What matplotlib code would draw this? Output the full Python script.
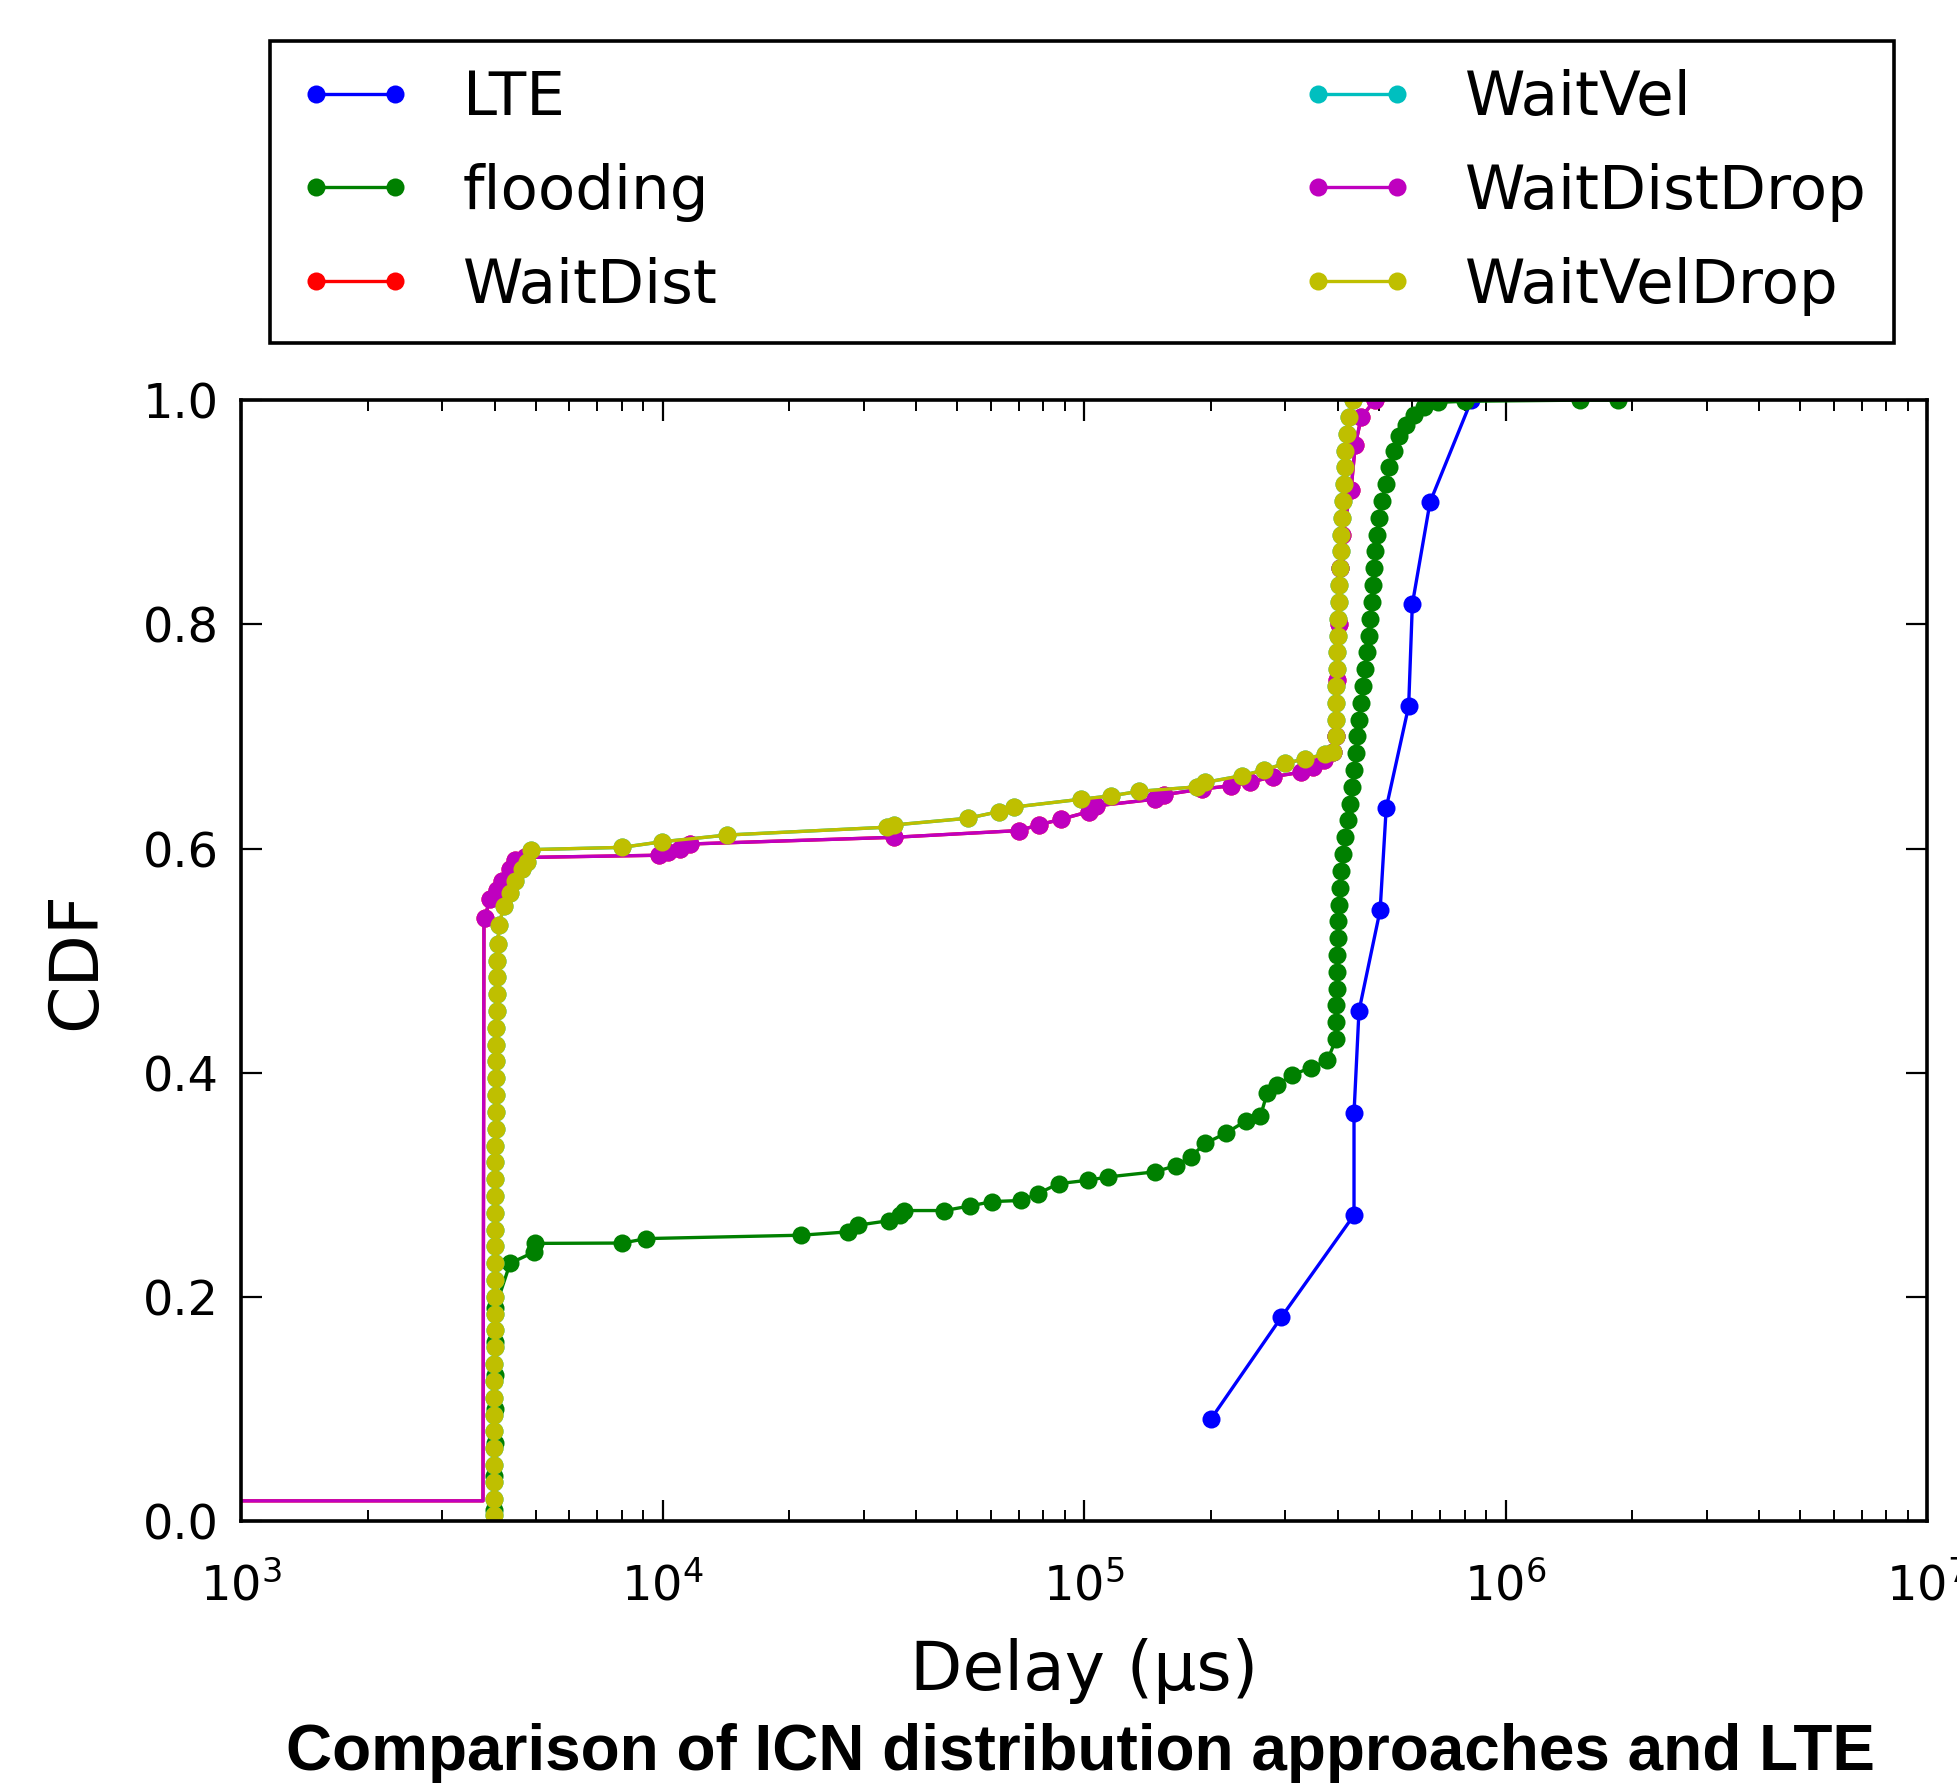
import matplotlib
matplotlib.use("Agg")
import matplotlib.pyplot as plt

# series names and old-style single letter colours
labels = ["LTE", "flooding", "WaitDist", "WaitVel", "WaitDistDrop", "WaitVelDrop"]
colors = ["#0000ff", "#008000", "#ff0000", "#00bfbf", "#bf00bf", "#bfbf00"]

# delays (microseconds) and CDF values
lte_delay = [2.0e5, 2.94e5, 4.37e5, 4.37e5, 4.49e5, 5.04e5, 5.21e5, 5.89e5, 6.01e5, 6.62e5, 8.3e5]
lte_cdf = [0.091, 0.182, 0.273, 0.364, 0.455, 0.545, 0.636, 0.727, 0.818, 0.909, 1.0]

flood_delay = [3.99e3, 3.99e3, 4.0e3, 4.0e3, 4.0e3, 4.01e3, 4.01e3, 4.35e3, 4.96e3, 4.98e3,
               8.03e3, 9.16e3, 2.13e4, 2.76e4, 2.91e4, 3.45e4, 3.66e4, 3.74e4, 4.66e4, 5.35e4,
               6.05e4, 7.1e4, 7.76e4, 8.7e4, 1.02e5, 1.14e5, 1.47e5, 1.65e5, 1.79e5, 1.94e5,
               2.17e5, 2.42e5, 2.62e5, 2.72e5, 2.87e5, 3.12e5, 3.45e5, 3.78e5,
               3.96e5, 3.97e5, 3.97e5, 3.98e5, 3.98e5, 3.99e5, 4.0e5, 4.01e5, 4.03e5, 4.05e5,
               4.08e5, 4.12e5, 4.17e5, 4.22e5, 4.27e5, 4.32e5, 4.37e5, 4.41e5, 4.45e5, 4.49e5,
               4.53e5, 4.58e5, 4.63e5, 4.68e5, 4.73e5, 4.77e5, 4.81e5, 4.84e5, 4.87e5, 4.91e5,
               4.95e5, 5.0e5, 5.08e5, 5.2e5, 5.3e5, 5.43e5, 5.6e5, 5.8e5, 6.06e5, 6.4e5,
               6.9e5, 8.0e5, 1.5e6, 1.85e6]
flood_cdf = [0.01, 0.04, 0.07, 0.10, 0.13, 0.16, 0.19, 0.23, 0.240, 0.2477,
             0.248, 0.252, 0.255, 0.258, 0.264, 0.268, 0.273, 0.277, 0.277, 0.281,
             0.285, 0.286, 0.292, 0.301, 0.304, 0.307, 0.3115, 0.317, 0.325, 0.337,
             0.346, 0.357, 0.361, 0.382, 0.389, 0.398, 0.4045, 0.411,
             0.43, 0.445, 0.46, 0.475, 0.49, 0.505, 0.52, 0.535, 0.55, 0.565,
             0.58, 0.595, 0.61, 0.625, 0.64, 0.655, 0.67, 0.685, 0.70, 0.715,
             0.73, 0.745, 0.76, 0.775, 0.79, 0.805, 0.82, 0.835, 0.85, 0.865,
             0.88, 0.895, 0.91, 0.925, 0.94, 0.955, 0.968, 0.978, 0.987, 0.994,
             0.998, 0.999, 1.0, 1.0]

wdd_delay = [5.0e2, 3.75e3, 3.77e3, 3.79e3, 3.89e3, 4.05e3, 4.16e3, 4.34e3, 4.46e3, 4.71e3,
             9.8e3, 1.03e4, 1.1e4, 1.16e4, 3.54e4, 7.0e4, 7.8e4, 8.8e4, 1.03e5, 1.07e5,
             1.47e5, 1.55e5, 1.9e5, 2.23e5, 2.47e5, 2.8e5, 3.27e5, 3.5e5, 3.7e5, 3.9e5,
             3.97e5, 3.99e5, 4.02e5, 4.05e5, 4.1e5, 4.3e5, 4.4e5, 4.55e5, 4.9e5]
wdd_cdf = [0.018, 0.018, 0.53, 0.538, 0.555, 0.563, 0.571, 0.582, 0.59, 0.592,
           0.594, 0.597, 0.600, 0.604, 0.610, 0.616, 0.621, 0.626, 0.633, 0.638,
           0.644, 0.648, 0.653, 0.656, 0.659, 0.664, 0.668, 0.673, 0.679, 0.686,
           0.70, 0.75, 0.80, 0.85, 0.88, 0.92, 0.96, 0.985, 1.0]

wvd_delay = [3.98e3, 3.98e3, 3.98e3, 3.98e3, 3.98e3, 3.99e3, 3.99e3, 3.99e3, 3.99e3, 3.99e3,
             4.0e3, 4.0e3, 4.0e3, 4.0e3, 4.0e3, 4.0e3, 4.0e3, 4.0e3, 4.01e3, 4.01e3,
             4.01e3, 4.01e3, 4.01e3, 4.02e3, 4.02e3, 4.02e3, 4.02e3, 4.03e3, 4.03e3, 4.03e3,
             4.04e3, 4.04e3, 4.05e3, 4.05e3, 4.06e3,
             4.1e3, 4.2e3, 4.34e3, 4.46e3, 4.65e3, 4.77e3, 4.87e3, 8.0e3, 9.96e3, 1.42e4,
             3.4e4, 3.54e4, 5.3e4, 6.3e4, 6.83e4, 9.85e4, 1.16e5, 1.35e5, 1.85e5, 1.94e5,
             2.37e5, 2.67e5, 3.0e5, 3.35e5, 3.72e5, 3.9e5,
             3.95e5, 3.96e5, 3.97e5, 3.97e5, 3.98e5, 3.99e5, 4.0e5, 4.01e5, 4.02e5, 4.03e5,
             4.05e5, 4.06e5, 4.08e5, 4.1e5, 4.11e5, 4.13e5, 4.15e5, 4.17e5, 4.2e5, 4.25e5,
             4.35e5]
wvd_cdf = [0.005, 0.02, 0.035, 0.05, 0.065, 0.08, 0.095, 0.11, 0.125, 0.14,
           0.155, 0.17, 0.185, 0.20, 0.215, 0.23, 0.245, 0.26, 0.275, 0.29,
           0.305, 0.32, 0.335, 0.35, 0.365, 0.38, 0.395, 0.41, 0.425, 0.44,
           0.455, 0.47, 0.485, 0.50, 0.515,
           0.532, 0.549, 0.56, 0.571, 0.582, 0.588, 0.599, 0.601, 0.606, 0.612,
           0.619, 0.621, 0.627, 0.633, 0.637, 0.644, 0.647, 0.651, 0.655, 0.659,
           0.665, 0.670, 0.676, 0.680, 0.684, 0.686,
           0.70, 0.715, 0.73, 0.745, 0.76, 0.775, 0.79, 0.805, 0.82, 0.835,
           0.85, 0.865, 0.88, 0.895, 0.91, 0.925, 0.94, 0.955, 0.97, 0.985,
           1.0]

# WaitDist / WaitVel lie under their Drop variants in the figure
wd_delay, wd_cdf = wdd_delay, wdd_cdf
wv_delay, wv_cdf = wvd_delay, wvd_cdf

series = [(lte_delay, lte_cdf), (flood_delay, flood_cdf), (wd_delay, wd_cdf),
          (wv_delay, wv_cdf), (wdd_delay, wdd_cdf), (wvd_delay, wvd_cdf)]
first_marker = [0, 0, 3, 0, 3, 0]  # no marker on the jump at the left

plt.rcParams['font.family'] = 'DejaVu Sans'
plt.rcParams['mathtext.default'] = 'regular'

fig = plt.figure(figsize=(19.58, 17.84), dpi=100)
ax = fig.add_axes([0.1231, 0.1474, 0.8611, 0.6283])

for (x, y), lab, c, m0 in zip(series, labels, colors, first_marker):
    ax.plot(x, y, '-o', color=c, label=lab, linewidth=2.4,
            markersize=13, markeredgewidth=0, markevery=slice(m0, None))

ax.set_xscale('log')
ax.set_xlim(1e3, 1e7)
ax.set_ylim(0, 1.0)
ax.set_yticks([0.0, 0.2, 0.4, 0.6, 0.8, 1.0])
ax.set_yticklabels(["0.0", "0.2", "0.4", "0.6", "0.8", "1.0"])

for s in ax.spines.values():
    s.set_linewidth(2.6)
ax.tick_params(which='both', direction='in', top=True, right=True, labelsize=34.5)
ax.tick_params(which='major', length=15, width=1.6)
ax.tick_params(which='minor', length=8, width=1.4)
ax.tick_params(axis='y', which='major', pad=16)
ax.tick_params(axis='x', which='major', pad=30)

ax.set_xlabel('Delay (µs)', fontsize=49, labelpad=20)
ax.set_ylabel('CDF', fontsize=49, labelpad=24)

leg = ax.legend(loc='lower left', bbox_to_anchor=(0.1379, 0.8077, 0.8294, 0.17),
                bbox_transform=fig.transFigure, mode='expand', ncol=2, numpoints=2,
                fontsize=44, fancybox=False, frameon=True, edgecolor='black',
                framealpha=1, borderaxespad=0, borderpad=0.45, labelspacing=0.57,
                handlelength=1.9, handletextpad=0.8)
leg.get_frame().set_linewidth(2.6)

fig.text(0.5516, 0.008, 'Comparison of ICN distribution approaches and LTE',
         ha='center', va='baseline', fontsize=46, fontweight='bold',
         family='Liberation Sans')

fig.savefig('out.png', dpi=100, facecolor='white')
